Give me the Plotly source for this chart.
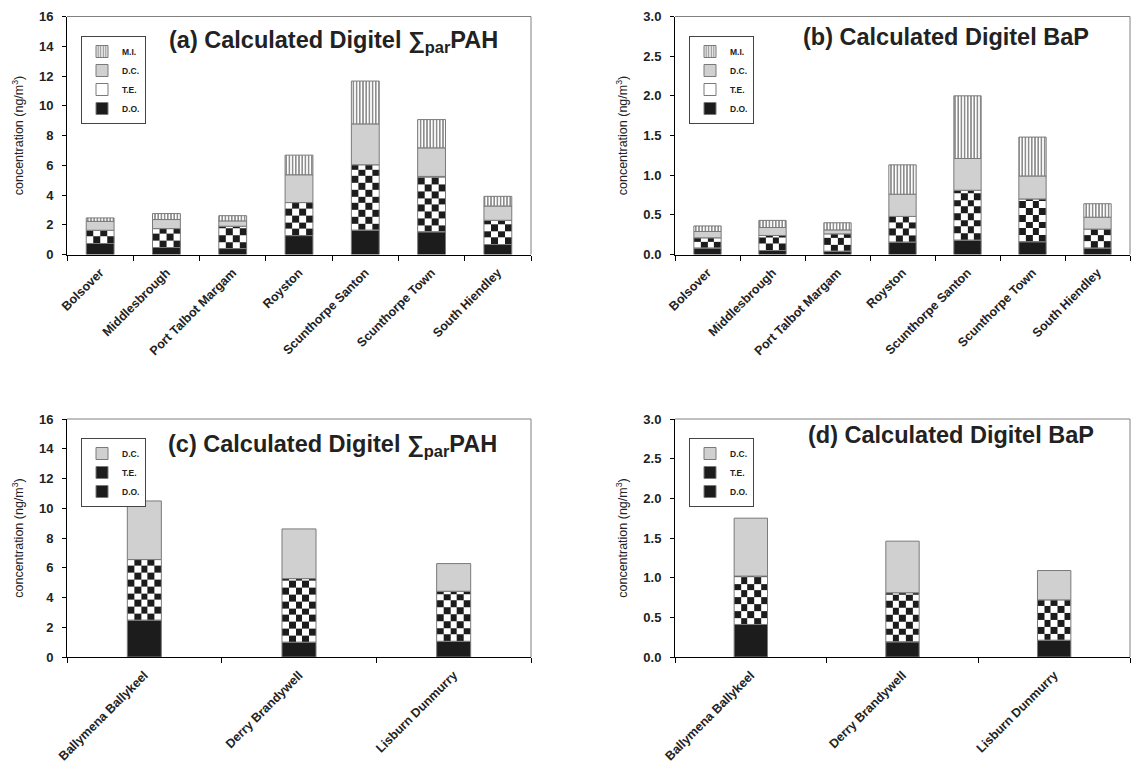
import numpy as np
import plotly.graph_objects as go

# ---------------- data ----------------
sites_eng = ["Bolsover", "Middlesbrough", "Port Talbot Margam", "Royston",
             "Scunthorpe Santon", "Scunthorpe Town", "South Hiendley"]
sites_ni = ["Ballymena Ballykeel", "Derry Brandywell", "Lisburn Dunmurry"]

pah_do = [0.74, 0.47, 0.40, 1.27, 1.63, 1.52, 0.67]
pah_te = [0.89, 1.27, 1.50, 2.22, 4.40, 3.73, 1.63]
pah_dc = [0.60, 0.61, 0.36, 1.87, 2.75, 1.92, 0.96]
pah_mi = [0.23, 0.40, 0.35, 1.32, 2.88, 1.90, 0.65]

bap_do = [0.08, 0.05, 0.04, 0.155, 0.18, 0.16, 0.08]
bap_te = [0.13, 0.19, 0.22, 0.325, 0.63, 0.54, 0.24]
bap_dc = [0.08, 0.10, 0.05, 0.28, 0.40, 0.29, 0.15]
bap_mi = [0.07, 0.09, 0.09, 0.37, 0.79, 0.49, 0.17]

ni_pah_do = [2.47, 0.99, 1.05]
ni_pah_te = [4.08, 4.28, 3.37]
ni_pah_dc = [3.94, 3.34, 1.86]

ni_bap_do = [0.41, 0.19, 0.21]
ni_bap_te = [0.61, 0.62, 0.51]
ni_bap_dc = [0.73, 0.65, 0.37]

titles = ["(a) Calculated Digitel \u2211<sub>par</sub>PAH",
          "(b) Calculated Digitel BaP",
          "(c) Calculated Digitel \u2211<sub>par</sub>PAH",
          "(d) Calculated Digitel BaP"]
ytitle = "concentration (ng/m<sup>3</sup>)"

# ---------------- style ----------------
F = "Liberation Sans, Arial, sans-serif"
BLACK = "#1c1c1c"
GREY = "#d0d0d0"
EDGE = "#7a7a7a"

fig = go.Figure()


def add_panel(k, names, series, barw, ncols, cell, te_legend_black):
    xa = "x" if k == 1 else f"x{k}"
    ya = "y" if k == 1 else f"y{k}"
    lg = "legend" if k == 1 else f"legend{k}"
    n = len(names)
    xs = list(range(n))
    base = np.zeros(n)
    for name, vals, style in series:
        vals = np.asarray(vals, dtype=float)
        common = dict(x=xs, y=vals, base=base.copy(), width=barw, name=name,
                      xaxis=xa, yaxis=ya, legend=lg, hoverinfo="skip")
        line = dict(color=EDGE, width=1)
        if style == "do":
            fig.add_trace(go.Bar(marker=dict(color=BLACK, line=line), **common))
        elif style == "dc":
            fig.add_trace(go.Bar(marker=dict(color=GREY, line=line), **common))
        elif style == "mi":
            fig.add_trace(go.Bar(marker=dict(color="white", line=line,
                                             pattern=dict(shape="|", fgcolor=BLACK, bgcolor="white",
                                                          size=3.2, solidity=0.5)),
                                 **common))
        elif style == "te":
            # checkerboard drawn as small heatmaps inside each segment
            for i in range(n):
                b, v = base[i], vals[i]
                nrows = max(1, int(np.ceil(v / cell - 1e-9)))
                ye = [b + r * cell for r in range(nrows)] + [b + v]
                xe = np.linspace(i - barw / 2, i + barw / 2, ncols + 1)
                z = [[(r + c) % 2 for c in range(ncols)] for r in range(nrows)]
                fig.add_trace(go.Heatmap(x=xe, y=ye, z=z, zmin=0, zmax=1,
                                         colorscale=[[0, "white"], [1, BLACK]],
                                         showscale=False, hoverinfo="skip",
                                         xaxis=xa, yaxis=ya))
            fig.add_trace(go.Bar(marker=dict(color="rgba(0,0,0,0)", line=line),
                                 showlegend=not te_legend_black, **common))
            if te_legend_black:
                fig.add_trace(go.Bar(x=[None], y=[None], name=name,
                                     marker=dict(color=BLACK, line=line),
                                     xaxis=xa, yaxis=ya, legend=lg))
        base = base + vals


add_panel(1, sites_eng, [("D.O.", pah_do, "do"), ("T.E.", pah_te, "te"),
                         ("D.C.", pah_dc, "dc"), ("M.I.", pah_mi, "mi")],
          0.42, 4, 0.454, False)
add_panel(2, sites_eng, [("D.O.", bap_do, "do"), ("T.E.", bap_te, "te"),
                         ("D.C.", bap_dc, "dc"), ("M.I.", bap_mi, "mi")],
          0.42, 4, 0.085, False)
add_panel(3, sites_ni, [("D.O.", ni_pah_do, "do"), ("T.E.", ni_pah_te, "te"),
                        ("D.C.", ni_pah_dc, "dc")],
          0.22, 5, 0.457, True)
add_panel(4, sites_ni, [("D.O.", ni_bap_do, "do"), ("T.E.", ni_bap_te, "te"),
                        ("D.C.", ni_bap_dc, "dc")],
          0.22, 5, 0.0857, True)

W, H = 1135, 767
xdom_l = [67 / W, 531 / W]
xdom_r = [675 / W, 1130 / W]
ydom_t = [1 - 254.5 / H, 1 - 16.5 / H]
ydom_b = [1 - 657 / H, 1 - 419 / H]


def xaxis(dom, anchor, names):
    n = len(names)
    return dict(domain=dom, anchor=anchor, range=[-0.5, n - 0.5], automargin=False,
                tickmode="array", tickvals=list(range(n)), ticktext=names,
                ticks="", tickangle=-45, ticklabelstandoff=5,
                showline=True, linecolor="black", linewidth=1,
                showgrid=False, zeroline=False, fixedrange=True,
                tickfont=dict(family=F, size=12.5, color="#222", weight="bold"),
                minor=dict(tickmode="array", tickvals=[j - 0.5 for j in range(n + 1)],
                           ticks="outside", ticklen=5, tickcolor="black", tickwidth=1,
                           showgrid=False))


def yaxis(dom, anchor, rng, dtick, fmt):
    return dict(domain=dom, anchor=anchor, range=rng, dtick=dtick, tickformat=fmt,
                automargin=False, fixedrange=True,
                ticks="outside", ticklen=4, tickcolor="black", ticklabelstandoff=6,
                showline=True, linecolor="black", linewidth=1,
                showgrid=False, zeroline=False,
                tickfont=dict(family=F, size=13, color="#222", weight="bold"),
                title=dict(text=ytitle, standoff=12,
                           font=dict(family=F, size=12.5, color="#222")))


legend_common = dict(xanchor="left", yanchor="top", bgcolor="white",
                     bordercolor="#444", borderwidth=1, traceorder="reversed",
                     font=dict(family=F, size=8.5, color="#222", weight="bold"),
                     itemwidth=30, itemclick=False, itemdoubleclick=False)

fig.update_layout(
    width=W, height=H, margin=dict(l=0, r=0, t=0, b=0, autoexpand=False),
    paper_bgcolor="white", plot_bgcolor="white",
    barmode="overlay", showlegend=True,
    xaxis=xaxis(xdom_l, "y", sites_eng),
    yaxis=yaxis(ydom_t, "x", [0, 16], 2, "d"),
    xaxis2=xaxis(xdom_r, "y2", sites_eng),
    yaxis2=yaxis(ydom_t, "x2", [0, 3], 0.5, ".1f"),
    xaxis3=xaxis(xdom_l, "y3", sites_ni),
    yaxis3=yaxis(ydom_b, "x3", [0, 16], 2, "d"),
    xaxis4=xaxis(xdom_r, "y4", sites_ni),
    yaxis4=yaxis(ydom_b, "x4", [0, 3], 0.5, ".1f"),
    legend=dict(x=81 / W, y=1 - 36 / H, **legend_common),
    legend2=dict(x=689 / W, y=1 - 36 / H, **legend_common),
    legend3=dict(x=81 / W, y=1 - 438 / H, **legend_common),
    legend4=dict(x=689 / W, y=1 - 438 / H, **legend_common),
)

# grey frame on top and right of each plot area
shapes = []
for k in ["", "2", "3", "4"]:
    for (x0, x1, y0, y1) in [(0, 1, 1, 1), (1, 1, 0, 1)]:
        shapes.append(dict(type="line", xref=f"x{k} domain", yref=f"y{k} domain",
                           x0=x0, x1=x1, y0=y0, y1=y1,
                           line=dict(color="#808080", width=1)))
fig.update_layout(shapes=shapes)

# panel titles
tpos = [(333.5 / W, 1 - 41 / H), (945.5 / W, 1 - 37 / H),
        (332.5 / W, 1 - 445 / H), (951 / W, 1 - 435 / H)]
for t, (px, py) in zip(titles, tpos):
    fig.add_annotation(text=f"<b>{t}</b>", x=px, y=py, xref="paper", yref="paper",
                       xanchor="center", yanchor="middle", showarrow=False,
                       font=dict(family=F, size=23.5, color="#222"))

fig.write_html("out.html", config={"displayModeBar": False},
               post_script="document.body.style.margin='0';document.body.style.overflow='hidden';")
